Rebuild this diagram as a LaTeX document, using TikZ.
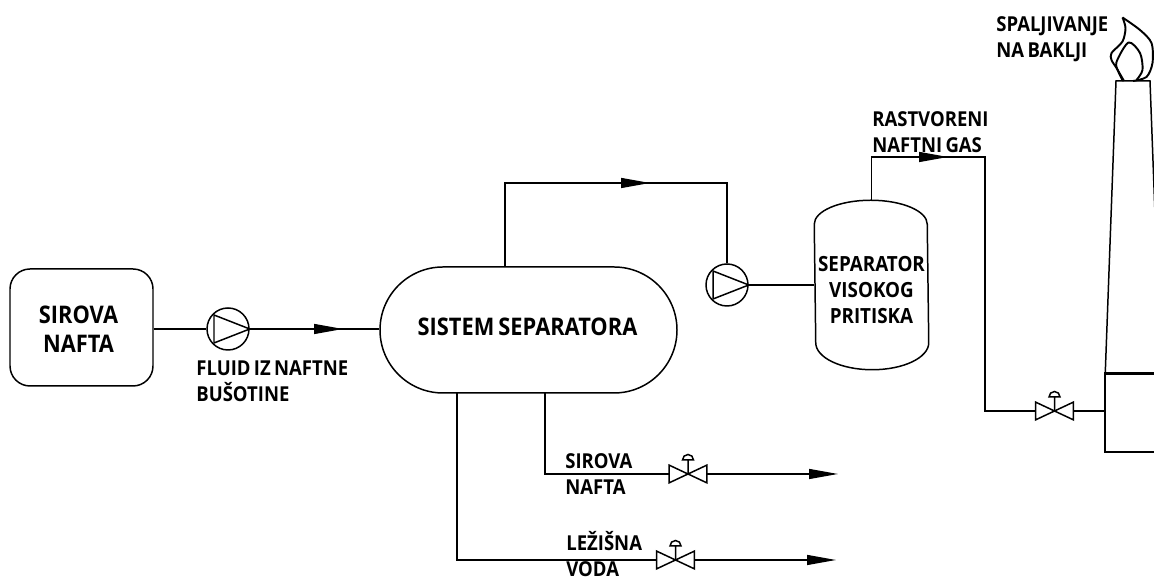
\documentclass[tikz,border=0pt]{standalone}
\usepackage{fontspec}
\setmainfont{Open Sans}[FakeStretch=0.9, WordSpace=0.7]
\usepackage{tikz}
\usetikzlibrary{arrows.meta}

\begin{document}
\begin{tikzpicture}[
    pipe/.style={line width=0.75pt},
    flow/.style={pipe, -{Triangle[length=5.8mm, width=2mm]}},
    symbol/.style={line width=0.85pt},
    pump/.style={circle, draw, symbol, minimum size=0.84cm, inner sep=0pt},
    valve/.style={minimum width=0.74cm, minimum height=0.34cm, inner sep=0pt},
    vessel/.style={draw, line width=0.85pt, inner sep=0pt},
    heading/.style={align=center, inner sep=0pt, font=\bfseries\fontsize{13.8}{16.5}\selectfont},
    tag/.style={anchor=west, align=left, inner sep=0pt, font=\bfseries\fontsize{11.7}{14.7}\selectfont},
    flame/.style={line width=1.1pt, line join=round}
  ]
  \useasboundingbox (0,0) rectangle (23.08,11.56);
  \clip (0,0) rectangle (23.08,11.56);

  % Equipment
  \node[vessel, rounded corners=0.4cm, minimum width=2.86cm, minimum height=2.34cm] (crude) at (1.63,5.01) {};
  \node[heading] (crudetext) at (1.57,4.98) {SIROVA\\NAFTA};
  \node[vessel, rounded corners=1.26cm, minimum width=5.94cm, minimum height=2.52cm] (sep) at (10.57,4.96) {};
  \node[heading] (septext) at (10.55,5.02) {SISTEM SEPARATORA};
  \node[vessel, draw=none, minimum width=2.26cm, minimum height=3.36cm] (hpsep) at (17.43,5.86) {};
  \node[heading, font=\bfseries\fontsize{11.9}{14.7}\selectfont] (hpseptext) at (17.43,5.76) {SEPARATOR\\VISOKOG\\PRITISKA};
  \draw[symbol] ([yshift=-0.48cm]hpsep.north west) arc[start angle=180, end angle=0, x radius=1.13, y radius=0.48]
    -- ([yshift=0.54cm]hpsep.south east) arc[start angle=0, end angle=-180, x radius=1.13, y radius=0.54] -- cycle;

  % Pumps and valves
  \foreach \name/\px/\py in {pump1/4.56/4.98, pump2/14.54/5.86}{
    \node[pump] (\name) at (\px,\py) {};
    \draw[symbol] ([shift={(-0.28,0.28)}]\name.center) -- (\name.east) -- ([shift={(-0.28,-0.28)}]\name.center) -- cycle;
  }
  \foreach \name/\px/\py in {valve1/13.76/2.08, valve2/13.51/0.36, valve3/21.09/3.34}{
    \node[valve] (\name) at (\px,\py) {};
    \draw[symbol] (\name.north west) -- (\name.south east) -- (\name.north east) -- (\name.south west) -- cycle;
    \draw[symbol] (\name.center) -- ++(0,0.28) ++(-0.11,0) arc[start angle=180, end angle=0, radius=0.11] -- cycle;
  }

  % Stack
  \node[minimum width=1.9cm, minimum height=1.56cm, draw, symbol, inner sep=0pt] (base) at (23.05,3.30) {};
  \draw[line width=1.3pt] (base.north west) -- (base.north east);
  \coordinate (stackl) at (22.32,9.94);
  \coordinate (stackr) at (23.00,9.94);
  \draw[symbol] ([xshift=0.02cm]base.north west) -- (stackl) -- (stackr) -- (23.22,4.08);
  \draw[flame] plot[smooth] coordinates {(22.45,11.21) (22.80,10.96) (23.03,10.70) (23.05,10.30) (22.93,10.02) (22.66,9.94)};
  \draw[flame] plot[smooth] coordinates {(22.45,11.21) (22.51,11.00) (22.45,10.73) (22.23,10.50) (22.23,10.36) (22.33,10.20) (22.48,9.94)};
  \draw[flame] plot[smooth] coordinates {(22.46,9.94) (22.37,10.12) (22.33,10.32) (22.57,10.71) (22.80,10.50) (22.85,10.16) (22.73,9.96)};

  % Feed line
  \coordinate (feedtip) at (6.86,4.98);
  \draw[pipe] (crude.east |- pump1) -- (pump1);
  \draw[flow] (pump1.east) -- (feedtip);
  \draw[pipe] ([xshift=-0.2cm]feedtip) -- (sep.west |- feedtip);

  % Gas to the high pressure separator
  \coordinate (gasup) at (10.10,7.90);
  \coordinate (gastip) at (13.00,7.90);
  \draw[flow] (gasup |- sep.north) -- (gasup) -- (gastip);
  \draw[pipe] ([xshift=-0.2cm]gastip) -- (gastip -| pump2) -- (pump2.north);
  \draw[pipe] (pump2.east) -- (hpsep.west);

  % Gas to the flare
  \coordinate (flaretip) at (18.96,8.42);
  \coordinate (flarecorner) at (19.70,8.42);
  \draw[flow] (hpsep.north) -- (hpsep.north |- flaretip) -- (flaretip);
  \draw[pipe] ([xshift=-0.2cm]flaretip) -- (flarecorner) -- (flarecorner |- valve3) -- (valve3.west);
  \draw[pipe] (valve3.east) -- (base.west |- valve3);

  % Oil and water outlets
  \coordinate (oiltip) at (16.76,2.08);
  \coordinate (watertip) at (16.72,0.36);
  \draw[pipe] (10.90,3.70) -- (10.90,2.08) -- (valve1.west);
  \draw[flow] (valve1.east) -- (oiltip);
  \draw[pipe] (9.14,3.70) -- (9.14,0.36) -- (valve2.west);
  \draw[flow] (valve2.east) -- (watertip);

  % Labels
  \node[tag] (fluidtag) at (3.92,3.94) {FLUID IZ NAFTNE\\BUŠOTINE};
  \node[tag] (oiltag) at (11.30,2.08) {SIROVA\\NAFTA};
  \node[tag] (watertag) at (11.32,0.48) {LEŽIŠNA\\VODA};
  \node[tag] (gastag) at (17.44,8.92) {RASTVORENI\\NAFTNI GAS};
  \node[tag] (flaretag) at (19.92,10.77) {SPALJIVANJE\\NA BAKLJI};
\end{tikzpicture}
\end{document}
